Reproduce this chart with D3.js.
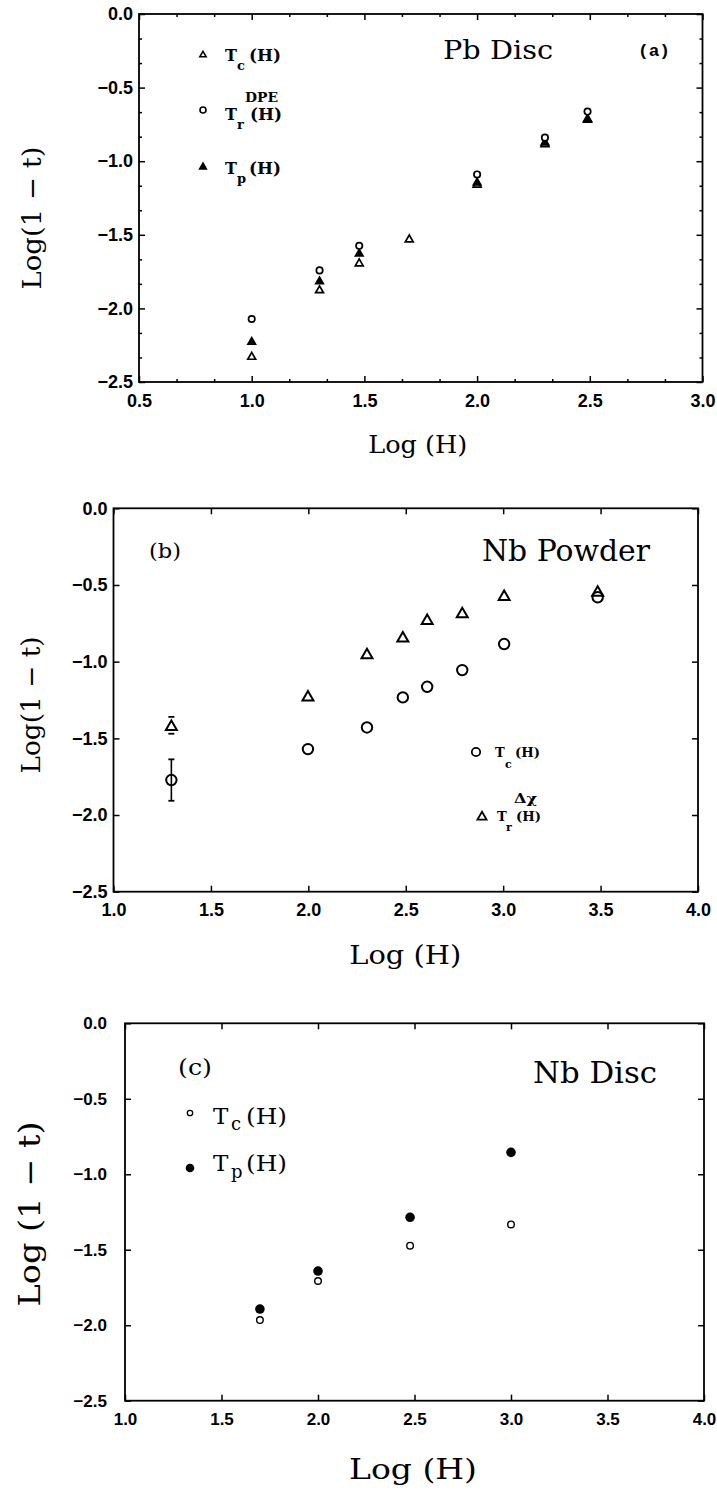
<!DOCTYPE html>
<html>
<head>
<meta charset="utf-8">
<script src="https://cdn.jsdelivr.net/npm/d3@7"></script>
<style>
  html, body { margin: 0; padding: 0; background: #fff; }
  svg { display: block; }
</style>
</head>
<body>
<script>
// ---------------- DATA ----------------
// Panel (a): Pb Disc
const aXTicks = [0.5, 1.0, 1.5, 2.0, 2.5, 3.0];
const aYTicks = [0.0, -0.5, -1.0, -1.5, -2.0, -2.5];
const aTcX = [1.0, 1.301, 1.477, 1.699, 2.0, 2.301, 2.49];
const aTcY = [-2.33, -1.878, -1.695, -1.532, -1.16, -0.885, -0.72];
const aTrX = [1.0, 1.301, 1.477, 2.0, 2.301, 2.49];
const aTrY = [-2.072, -1.742, -1.575, -1.09, -0.84, -0.663];
const aTpX = [1.0, 1.301, 1.477, 2.0, 2.301, 2.49];
const aTpY = [-2.228, -1.817, -1.629, -1.147, -0.874, -0.713];

// Panel (b): Nb Powder
const bXTicks = [1.0, 1.5, 2.0, 2.5, 3.0, 3.5, 4.0];
const bYTicks = [0.0, -0.5, -1.0, -1.5, -2.0, -2.5];
const bX = [1.297, 1.998, 2.301, 2.485, 2.61, 2.79, 3.005, 3.485];
const bTcY = [-1.772, -1.570, -1.429, -1.233, -1.164, -1.055, -0.885, -0.58];
const bTrY = [-1.425, -1.233, -0.957, -0.848, -0.733, -0.690, -0.577, -0.55];
const bErrX = [1.297];
const bTcErrLo = [-1.907], bTcErrHi = [-1.637];
const bTrErrLo = [-1.47], bTrErrHi = [-1.36];

// Panel (c): Nb Disc
const cXTicks = [1.0, 1.5, 2.0, 2.5, 3.0, 3.5, 4.0];
const cYTicks = [0.0, -0.5, -1.0, -1.5, -2.0, -2.5];
const cX = [1.699, 2.0, 2.477, 3.0];
const cTcY = [-1.966, -1.707, -1.473, -1.332];
const cTpY = [-1.893, -1.641, -1.285, -0.855];

// ---------------- DRAW ----------------
const svg = d3.select("body").append("svg").attr("width", 717).attr("height", 1493);
const fmt = d3.format(".1f");
const SERIF = "'DejaVu Serif', serif";
const SANSB = "'Liberation Sans', Arial, sans-serif";

function makePanel(o) {
  const x = d3.scaleLinear().domain(o.xDom).range([o.l, o.r]);
  const y = d3.scaleLinear().domain([-2.5, 0]).range([o.b, o.t]);
  const g = svg.append("g");

  const styleAxis = (sel, fs) => {
    sel.select(".domain").remove();
    sel.selectAll("line").attr("stroke", "#000").attr("stroke-width", 1.5);
    sel.selectAll("text").attr("font-family", SANSB).attr("font-weight", "bold")
      .attr("font-size", fs).attr("fill", "#000");
  };
  g.append("g").attr("transform", `translate(0,${o.b})`)
    .call(d3.axisBottom(x).tickValues(o.xTicks).tickFormat(fmt).tickSize(-o.tick).tickPadding(o.xPad))
    .call(s => styleAxis(s, o.tfs));
  g.append("g").attr("transform", `translate(${o.l},0)`)
    .call(d3.axisLeft(y).tickValues(o.yTicks).tickFormat(fmt).tickSize(-o.tick).tickPadding(o.yPad))
    .call(s => styleAxis(s, o.tfs));
  g.append("g").attr("transform", `translate(0,${o.t})`)
    .call(d3.axisTop(x).tickValues(o.xTicks).tickFormat("").tickSize(-o.tick))
    .call(s => styleAxis(s, o.tfs));
  g.append("g").attr("transform", `translate(${o.r},0)`)
    .call(d3.axisRight(y).tickValues(o.yTicks).tickFormat("").tickSize(-o.tick))
    .call(s => styleAxis(s, o.tfs));
  if (o.minor) {
    const mx = d3.range(0, 16).map(i => o.xDom[0] + i / 6).filter(v => v < o.xDom[1] - 1e-6 && Math.abs(v * 2 - Math.round(v * 2)) > 1e-6);
    const my = d3.range(0, 16).map(i => -2.5 + i / 6).filter(v => v < -1e-6 && Math.abs(v * 2 - Math.round(v * 2)) > 1e-6);
    [[d3.axisBottom(x).tickValues(mx), `translate(0,${o.b})`],
     [d3.axisTop(x).tickValues(mx), `translate(0,${o.t})`],
     [d3.axisLeft(y).tickValues(my), `translate(${o.l},0)`],
     [d3.axisRight(y).tickValues(my), `translate(${o.r},0)`]].forEach(([ax, tr]) => {
      g.append("g").attr("transform", tr).call(ax.tickFormat("").tickSize(-o.tick / 2))
        .call(s => styleAxis(s, o.tfs));
    });
  }
  g.append("rect").attr("x", o.l).attr("y", o.t).attr("width", o.r - o.l).attr("height", o.b - o.t)
    .attr("fill", "none").attr("stroke", "#000").attr("stroke-width", 1.8);

  g.append("text").attr("x", (o.l + o.r) / 2 + o.xtDx).attr("y", o.xtY)
    .attr("text-anchor", "middle").attr("font-family", SERIF).attr("font-size", o.xtFs)
    .attr("textLength", o.xtLen).attr("lengthAdjust", "spacingAndGlyphs").text("Log (H)");
  g.append("text").attr("transform", `translate(${o.ytX},${o.ytY}) rotate(-90)`)
    .attr("text-anchor", "middle").attr("font-family", SERIF).attr("font-size", o.ytFs)
    .attr("textLength", o.ytLen).attr("lengthAdjust", "spacingAndGlyphs").text(o.ytText);
  return { g, x, y };
}

function tri(size) { return d3.symbol(d3.symbolTriangle, size)(); }

function addLabel(g, x, yb, txt, fs, opts = {}) {
  const t = g.append("text").attr("x", x).attr("y", yb).attr("font-family", opts.family || SERIF)
    .attr("font-size", fs).attr("font-weight", opts.bold ? "bold" : "normal").text(txt);
  if (opts.len) t.attr("textLength", opts.len).attr("lengthAdjust", "spacingAndGlyphs");
  if (opts.anchor) t.attr("text-anchor", opts.anchor);
  return t;
}

// ---- Panel (a)
{
  const P = makePanel({ l: 139, r: 702.5, t: 14, b: 382, xDom: [0.5, 3.0], xTicks: aXTicks, yTicks: aYTicks,
    tick: 6, minor: true, tfs: 18, xPad: 12, yPad: 6,
    xtDx: -3, xtY: 453, xtFs: 25, xtLen: 99,
    ytX: 41, ytY: 218, ytFs: 26, ytLen: 143, ytText: "Log(1 \u2212 t)" });
  const { g, x, y } = P;
  g.selectAll(".atc").data(aTcX).join("path")
    .attr("d", tri(27)).attr("transform", (d, i) => `translate(${x(d)},${y(aTcY[i])})`)
    .attr("fill", "#fff").attr("stroke", "#000").attr("stroke-width", 1.7);
  g.selectAll(".atp").data(aTpX).join("path")
    .attr("d", tri(28)).attr("transform", (d, i) => `translate(${x(d)},${y(aTpY[i])})`)
    .attr("fill", "#000").attr("stroke", "#000").attr("stroke-width", 1.4);
  g.selectAll(".atr").data(aTrX).join("circle")
    .attr("cx", d => x(d)).attr("cy", (d, i) => y(aTrY[i])).attr("r", 3.2)
    .attr("fill", "#fff").attr("stroke", "#000").attr("stroke-width", 1.7);

  // legend
  g.append("path").attr("d", tri(18)).attr("transform", "translate(203,55)")
    .attr("fill", "#fff").attr("stroke", "#000").attr("stroke-width", 1.5);
  addLabel(g, 225, 61, "T", 16, { bold: true });
  addLabel(g, 237, 70, "c", 13, { bold: true });
  addLabel(g, 249, 61, "(H)", 16, { bold: true, len: 32 });

  addLabel(g, 245, 101.5, "DPE", 12, { bold: true, len: 33 });
  g.append("circle").attr("cx", 203).attr("cy", 110).attr("r", 3)
    .attr("fill", "#fff").attr("stroke", "#000").attr("stroke-width", 1.6);
  addLabel(g, 225, 120, "T", 16, { bold: true });
  addLabel(g, 237, 129, "r", 13, { bold: true });
  addLabel(g, 250, 120, "(H)", 16, { bold: true, len: 32 });

  g.append("path").attr("d", tri(22)).attr("transform", "translate(203,167)")
    .attr("fill", "#000").attr("stroke", "#000").attr("stroke-width", 1.3);
  addLabel(g, 225, 174, "T", 16, { bold: true });
  addLabel(g, 237, 183, "p", 13, { bold: true });
  addLabel(g, 249, 174, "(H)", 16, { bold: true, len: 32 });

  addLabel(g, 443, 59, "Pb Disc", 26, { len: 110 });
  addLabel(g, 638, 56, "(a)", 16, { bold: true, family: "'Liberation Mono', monospace", len: 32 });
}

// ---- Panel (b)
{
  const P = makePanel({ l: 113.5, r: 698, t: 508.3, b: 891.7, xDom: [1.0, 4.0], xTicks: bXTicks, yTicks: bYTicks,
    tick: 6, minor: false, tfs: 18, xPad: 12, yPad: 6,
    xtDx: -0.5, xtY: 964, xtFs: 26, xtLen: 112,
    ytX: 40, ytY: 705, ytFs: 26, ytLen: 137, ytText: "Log(1 \u2212 t)" });
  const { g, x, y } = P;
  const eb = (lo, hi, cls, stem) => {
    if (stem) {
      g.selectAll("." + cls + "v").data(bErrX).join("line")
        .attr("x1", d => x(d)).attr("x2", d => x(d))
        .attr("y1", (d, i) => y(lo[i])).attr("y2", (d, i) => y(hi[i]))
        .attr("stroke", "#000").attr("stroke-width", 1.6);
    }
    [lo, hi].forEach((arr, k) => {
      g.selectAll("." + cls + "c" + k).data(bErrX).join("line")
        .attr("x1", d => x(d) - 3).attr("x2", d => x(d) + 3)
        .attr("y1", (d, i) => y(arr[i])).attr("y2", (d, i) => y(arr[i]))
        .attr("stroke", "#000").attr("stroke-width", 1.8);
    });
  };
  eb(bTcErrLo, bTcErrHi, "ebc", true);
  eb(bTrErrLo, bTrErrHi, "ebt", false);
  g.selectAll(".btr").data(bX).join("path")
    .attr("d", tri(52)).attr("transform", (d, i) => `translate(${x(d)},${y(bTrY[i])})`)
    .attr("fill", "#fff").attr("stroke", "#000").attr("stroke-width", 2);
  g.selectAll(".btc").data(bX).join("circle")
    .attr("cx", d => x(d)).attr("cy", (d, i) => y(bTcY[i])).attr("r", 5.2)
    .attr("fill", "#fff").attr("fill-opacity", 0).attr("stroke", "#000").attr("stroke-width", 2);

  // legend
  g.append("circle").attr("cx", 476).attr("cy", 752).attr("r", 4.2)
    .attr("fill", "none").attr("stroke", "#000").attr("stroke-width", 1.8);
  addLabel(g, 495, 757, "T", 13, { bold: true });
  addLabel(g, 505, 768, "c", 11, { bold: true });
  addLabel(g, 515, 757, "(H)", 13, { bold: true, len: 25 });

  g.append("path").attr("d", tri(36)).attr("transform", "translate(482,817)")
    .attr("fill", "#fff").attr("stroke", "#000").attr("stroke-width", 1.8);
  addLabel(g, 514, 803, "\u0394\u03C7", 12, { bold: true, len: 23 });
  addLabel(g, 497, 821, "T", 13, { bold: true });
  addLabel(g, 506, 831, "r", 11, { bold: true });
  addLabel(g, 516, 821, "(H)", 13, { bold: true, len: 25 });

  addLabel(g, 149, 558, "(b)", 21, { len: 32 });
  addLabel(g, 482, 561, "Nb Powder", 29, { len: 168 });
}

// ---- Panel (c)
{
  const P = makePanel({ l: 125, r: 704, t: 1023.3, b: 1400.7, xDom: [1.0, 4.0], xTicks: cXTicks, yTicks: cYTicks,
    tick: 6, minor: false, tfs: 17, xPad: 12, yPad: 18,
    xtDx: -1.5, xtY: 1479, xtFs: 28, xtLen: 128,
    ytX: 40, ytY: 1214, ytFs: 30, ytLen: 185, ytText: "Log (1 \u2212 t)" });
  const { g, x, y } = P;
  g.selectAll(".ctp").data(cX).join("circle")
    .attr("cx", d => x(d)).attr("cy", (d, i) => y(cTpY[i])).attr("r", 4.8)
    .attr("fill", "#000");
  g.selectAll(".ctc").data(cX).join("circle")
    .attr("cx", d => x(d)).attr("cy", (d, i) => y(cTcY[i])).attr("r", 3.3)
    .attr("fill", "#fff").attr("stroke", "#000").attr("stroke-width", 1.4);

  g.append("circle").attr("cx", 190).attr("cy", 1113).attr("r", 2.7)
    .attr("fill", "#fff").attr("stroke", "#000").attr("stroke-width", 1.3);
  addLabel(g, 213, 1124, "T", 23);
  addLabel(g, 231, 1130, "c", 18);
  addLabel(g, 246, 1124, "(H)", 23, { len: 41 });

  g.append("circle").attr("cx", 190).attr("cy", 1168).attr("r", 4.3).attr("fill", "#000");
  addLabel(g, 213, 1171, "T", 23);
  addLabel(g, 231, 1178, "p", 18);
  addLabel(g, 246, 1171, "(H)", 23, { len: 41 });

  addLabel(g, 178, 1075, "(c)", 22, { len: 34 });
  addLabel(g, 533, 1083, "Nb Disc", 29, { len: 124 });
}
</script>
</body>
</html>
